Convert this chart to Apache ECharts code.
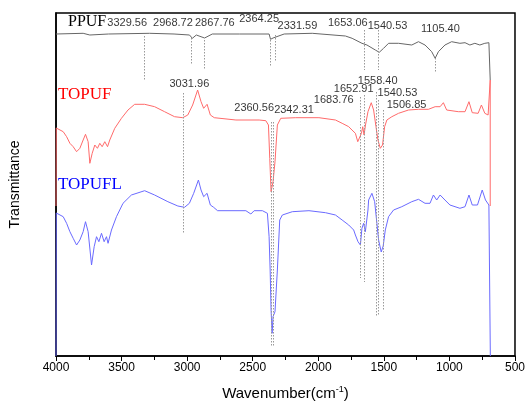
<!DOCTYPE html>
<html><head><meta charset="utf-8">
<script src="https://cdn.jsdelivr.net/npm/echarts@6/dist/echarts.min.js"></script>
<style>html,body{margin:0;padding:0;background:#fff}#c{width:528px;height:412px}</style>
</head><body><div id="c"></div>
<script>
// x tick labels on the wavenumber axis
const xTicks = [4000, 3500, 3000, 2500, 2000, 1500, 1000, 500];
const seriesNames = ['PPUF', 'TOPUF', 'TOPUFL'];
// spectra: [wavenumber (cm-1), transmittance (arbitrary offset units)]
const ppuf = [[4000,322],[3992,322],[3793,322.7],[3742,321],[3600,322],[3286,322.7],[3100,322],[2982,321],[2960,317.7],[2930,321],[2867,318],[2808,322],[2600,322],[2375,322],[2364,316.7],[2345,318],[2330,319],[2260,322],[2046,322.7],[1793,320],[1742,317.7],[1667,312.7],[1629,311],[1565,306],[1535,303.7],[1502,307.7],[1464,312.7],[1388,312.7],[1287,311],[1236,314.3],[1186,311],[1135,304.3],[1109,297.7],[1084,304.3],[1034,311],[983,314.3],[920,312.7],[881,313.3],[844,311],[806,312.7],[768,311],[730,312.7],[699,313.3],[690,313],[689,276]];
const topuf = [[4000,150],[3998,228],[3983,227.7],[3945,224.3],[3919,219.3],[3894,212.7],[3869,209.3],[3843,204.3],[3818,207.7],[3793,216],[3775,221.7],[3755,214.3],[3742,192.7],[3724,202.7],[3704,211],[3684,207.7],[3666,212.7],[3648,209.3],[3628,214.3],[3607,209.3],[3590,216],[3552,227.7],[3501,237.7],[3451,246],[3400,251.7],[3324,251.7],[3248,249.3],[3172,244.3],[3096,239.3],[3033,238.3],[2995,241],[2958,251],[2920,266],[2894,254.3],[2874,247.7],[2848,251.7],[2823,241],[2793,238.3],[2780,237.7],[2628,236],[2451,236],[2400,235.3],[2380,231],[2370,197.7],[2360,164.3],[2345,174.3],[2330,194.3],[2312,231],[2286,237.7],[2172,238.3],[1995,238.3],[1869,236],[1818,232.7],[1768,229.3],[1743,226],[1717,222.7],[1699,214.3],[1686,216],[1671,222.7],[1661,229.3],[1651,221],[1640,231],[1621,244.3],[1596,253.3],[1578,246],[1560,229.3],[1545,216],[1527,207.7],[1510,211],[1494,229.3],[1477,236],[1439,239.3],[1388,242.7],[1312,246],[1236,246.7],[1160,246.7],[1109,249.3],[1071,249.3],[1046,253.3],[1021,246],[932,244.3],[881,244.3],[851,254.3],[826,243.3],[781,242.7],[756,251],[730,242.7],[705,241],[692,242.7],[689,276],[689,150]];
const topufl = [[4000,0],[3998,143],[3983,142.7],[3945,139.3],[3919,132.7],[3894,124.3],[3869,117.7],[3843,111],[3818,116],[3793,124.3],[3775,134.3],[3755,124.3],[3729,91],[3709,109.3],[3691,119.3],[3673,114.3],[3653,122.7],[3633,114.3],[3615,119.3],[3603,112.7],[3577,126],[3539,139.3],[3489,152.7],[3425,161],[3324,165.3],[3248,161],[3147,154.3],[3071,150],[3020,148.7],[2983,152.7],[2950,162.7],[2914,176],[2894,166],[2874,159.3],[2848,162.7],[2823,151],[2798,148.7],[2768,145.3],[2552,145.3],[2514,142],[2489,145.3],[2426,145.3],[2388,142.7],[2375,119.3],[2367,86],[2360,46],[2352,22.7],[2345,39.3],[2330,44.3],[2312,86],[2294,136],[2274,141],[2198,144.3],[2071,145.3],[1945,143.3],[1869,141],[1818,136],[1768,131],[1730,126],[1717,121],[1697,114.3],[1679,111],[1667,127.7],[1654,132.7],[1641,124.3],[1621,146],[1616,156],[1591,162.7],[1570,154.3],[1553,132.7],[1540,116],[1520,104],[1505,110],[1489,126],[1464,139.3],[1426,146],[1363,149.3],[1287,154.3],[1236,156.7],[1186,152.7],[1148,152.7],[1122,161],[1097,156],[1071,161],[1034,156],[996,151],[920,147.7],[881,149.3],[851,161],[826,151],[786,151],[750,166],[725,156],[699,151],[690,151],[688,0]];
// labelled peaks
const ppufPeaks = [3329.56, 2968.72, 2867.76, 2364.25, 2331.59, 1653.06, 1540.53, 1105.40];
const topufPeaks = [3031.96, 2360.56, 2342.31, 1683.76, 1652.91, 1558.40, 1540.53, 1506.85];
// dotted guide extents [top, bottom] in value units
const ppufGuide = [[320,276],[318,291],[316,286],[316,289],[321,294],[326,286],[326,286],[298,283]];
const topufGuide = [[263,123],[234,9],[234,9],[259,78],[261,74],[264,39],[256,41],[246,46]];
// label anchors [wavenumber, value]
const ppufLabelPos = [[3457,333],[3108,333],[2789,333],[2451,337],[2159,330],[1775,333],[1472,330],[1069,327]];
const topufLabelPos = [[2983,272],[2489,248],[2185,246],[1882,256],[1730,267],[1547,275],[1396,263],[1327,251]];

function guides(peaks, ext) {
  return peaks.map((p, i) => [{xAxis: p, yAxis: ext[i][0]}, {xAxis: p, yAxis: ext[i][1]}]);
}
function labels(peaks, pos) {
  return peaks.map((p, i) => ({value: pos[i], name: p.toFixed(2)}));
}
const chart = echarts.init(document.getElementById('c'));
const lbl = {show: true, position: 'inside', formatter: '{b}', color: '#000', fontSize: 11, fontFamily: 'Liberation Sans'};
chart.setOption({
  animation: false,
  grid: {left: 56, right: 12, top: 13, bottom: 56, show: true, borderColor: '#000', borderWidth: 1.5, backgroundColor: 'transparent'},
  xAxis: {
    type: 'value', inverse: true, min: 500, max: 4000, interval: 500,
    axisLine: {show: true, onZero: false, lineStyle: {color: '#000', width: 1.5}},
    axisTick: {show: true, inside: false, length: 5, lineStyle: {color: '#000'}},
    minorTick: {show: true, splitNumber: 2, length: 4, lineStyle: {color: '#000'}},
    splitLine: {show: false},
    axisLabel: {color: '#000', fontSize: 12, fontFamily: 'Liberation Sans', margin: 6, formatter: v => xTicks.includes(v) ? String(v) : ''},
    name: 'Wavenumber(cm{s|-1})', nameLocation: 'middle', nameGap: 29,
    nameTextStyle: {color: '#000', fontSize: 15, fontFamily: 'Liberation Sans', rich: {s: {fontSize: 9, verticalAlign: 'top', padding: [0,0,8,0], fontFamily: 'Liberation Sans'}}}
  },
  yAxis: {
    type: 'value', min: 0, max: 343,
    axisLine: {show: true, lineStyle: {color: '#000', width: 1.5}},
    axisTick: {show: false}, axisLabel: {show: false}, splitLine: {show: false},
    name: 'Transmittance', nameLocation: 'middle', nameGap: 34,
    nameTextStyle: {color: '#000', fontSize: 14, fontFamily: 'Liberation Sans'}
  },
  graphic: [
    {type: 'text', left: 68, top: 14, style: {text: seriesNames[0], fill: '#000', font: '16px "Liberation Serif"'}},
    {type: 'text', left: 58, top: 86, style: {text: seriesNames[1], fill: '#ff0000', font: '17px "Liberation Serif"'}},
    {type: 'text', left: 58, top: 176, style: {text: seriesNames[2], fill: '#0000ff', font: '17px "Liberation Serif"'}}
  ],
  series: [
    {type: 'line', name: 'guides', data: [], silent: true,
     markLine: {silent: true, symbol: 'none', label: {show: false}, lineStyle: {color: '#999', type: [1.5, 1.5], width: 1},
       data: guides(ppufPeaks, ppufGuide).concat(guides(topufPeaks, topufGuide))}},
    {type: 'line', name: seriesNames[0], data: ppuf, showSymbol: false, symbol: 'none', lineStyle: {color: '#666', width: 1}},
    {type: 'line', name: seriesNames[1], data: topuf, showSymbol: false, symbol: 'none', lineStyle: {color: '#ff6a6a', width: 1}},
    {type: 'line', name: seriesNames[2], data: topufl, showSymbol: false, symbol: 'none', lineStyle: {color: '#6a6aff', width: 1}},
    {type: 'scatter', symbolSize: 0, silent: true, data: labels(ppufPeaks, ppufLabelPos).concat(labels(topufPeaks, topufLabelPos)), label: lbl}
  ]
});
</script></body></html>
